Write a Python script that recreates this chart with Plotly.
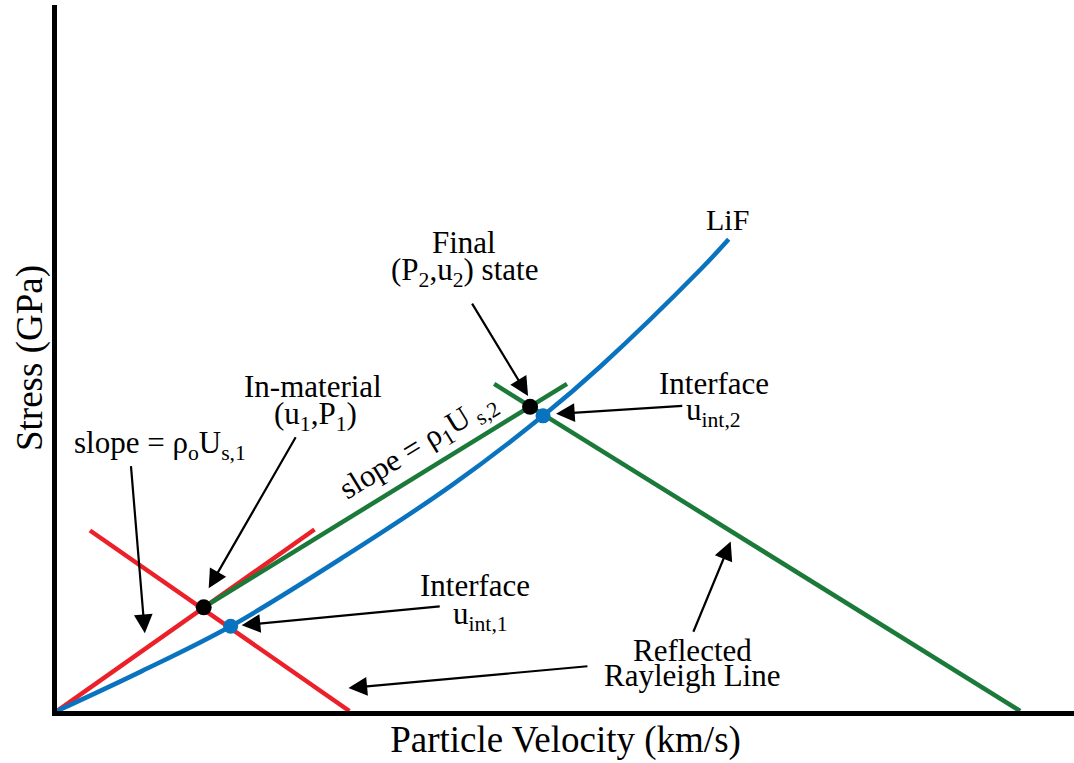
import plotly.graph_objects as go

# ---- data (schematic units: particle velocity, stress) ----
lif_u = [0.0, 0.85, 1.74, 2.88, 3.95, 4.87, 5.45, 6.45, 6.73]
lif_p = [0.0, 0.40, 0.85, 1.55, 2.26, 2.96, 3.46, 4.43, 4.73]

rayleigh1_u = [0.0, 2.58]
rayleigh1_p = [0.0, 1.82]
reflected1_u = [0.33, 2.93]
reflected1_p = [1.81, 0.0]

rayleigh2_u = [1.47, 5.11]
rayleigh2_p = [1.04, 3.28]
reflected2_u = [4.38, 9.65]
reflected2_p = [3.28, 0.0]

state_u = [1.47, 4.74]
state_p = [1.04, 3.05]
interface_u = [1.74, 4.87]
interface_p = [0.85, 2.96]

X_MAX, Y_MAX = 10.19, 7.08

RED = "#ec2029"
GREEN = "#1b7a3a"
BLUE = "#0a73bf"
FONT = "Liberation Serif"

fig = go.Figure()
fig.add_trace(go.Scatter(x=rayleigh1_u, y=rayleigh1_p, mode="lines",
                         line=dict(color=RED, width=4.5), hoverinfo="skip"))
fig.add_trace(go.Scatter(x=reflected1_u, y=reflected1_p, mode="lines",
                         line=dict(color=RED, width=4.5), hoverinfo="skip"))
fig.add_trace(go.Scatter(x=rayleigh2_u, y=rayleigh2_p, mode="lines",
                         line=dict(color=GREEN, width=4.5), hoverinfo="skip"))
fig.add_trace(go.Scatter(x=reflected2_u, y=reflected2_p, mode="lines",
                         line=dict(color=GREEN, width=4.5), hoverinfo="skip"))
fig.add_trace(go.Scatter(x=lif_u, y=lif_p, mode="lines", line_shape="spline",
                         line=dict(color=BLUE, width=4.5), hoverinfo="skip"))
fig.add_trace(go.Scatter(x=state_u, y=state_p, mode="markers",
                         marker=dict(color="black", size=16), hoverinfo="skip"))
fig.add_trace(go.Scatter(x=interface_u, y=interface_p, mode="markers",
                         marker=dict(color=BLUE, size=15), hoverinfo="skip"))

# arrows: (tip_u, tip_p, tail_u, tail_p)
arrows = [
    (0.88, 0.78, 0.74, 2.47),
    (1.52, 1.23, 2.40, 2.76),
    (1.85, 0.86, 3.85, 1.05),
    (2.92, 0.23, 5.33, 0.45),
    (6.75, 1.70, 6.37, 0.78),
    (4.72, 3.16, 4.15, 4.10),
    (5.00, 2.98, 6.28, 3.06),
]
for tx, ty, ax_, ay_ in arrows:
    fig.add_annotation(x=tx, y=ty, ax=ax_, ay=ay_, axref="x", ayref="y",
                       xref="x", yref="y", text="", showarrow=True,
                       arrowhead=2, arrowsize=1.7, arrowwidth=2.2,
                       arrowcolor="black", standoff=0, startstandoff=0)

# labels: (u, p, text, size, angle)
labels = [
    (6.72, 4.93, "LiF", 30, 0),
    (4.08, 4.70, "Final", 31, 0),
    (4.08, 4.40, "(P<sub>2</sub>,u<sub>2</sub>) state", 31, 0),
    (2.56, 3.25, "In-material", 31, 0),
    (2.59, 2.96, "(u<sub>1</sub>,P<sub>1</sub>)", 31, 0),
    (1.03, 2.67, "slope = ρ<sub>o</sub>U<sub>s,1</sub>", 31, 0),
    (3.62, 2.65, "slope = ρ<sub>1</sub>U<sub> s,2</sub>", 31, -31.5),
    (6.58, 3.28, "Interface", 31, 0),
    (6.58, 3.00, "u<sub>int,2</sub>", 31, 0),
    (4.19, 1.26, "Interface", 31, 0),
    (4.24, 0.95, "u<sub>int,1</sub>", 31, 0),
    (6.37, 0.61, "Reflected", 31, 0),
    (6.36, 0.36, "Rayleigh Line", 31, 0),
]
for u, p, t, s, ang in labels:
    fig.add_annotation(x=u, y=p, xref="x", yref="y", text=t, showarrow=False,
                       textangle=ang, font=dict(family=FONT, size=s, color="black"),
                       xanchor="center", yanchor="middle")

fig.update_layout(
    width=1074, height=763,
    margin=dict(l=57, r=0, t=5, b=52),
    paper_bgcolor="white", plot_bgcolor="white",
    showlegend=False,
    font=dict(family=FONT, color="black"),
    xaxis=dict(range=[0, X_MAX], showgrid=False, zeroline=False,
               showticklabels=False, ticks="", showline=True,
               linewidth=5, linecolor="black", fixedrange=True,
               title=dict(text="Particle Velocity (km/s)",
                          font=dict(family=FONT, size=37), standoff=13),
               automargin=False),
    yaxis=dict(range=[0, Y_MAX], showgrid=False, zeroline=False,
               showticklabels=False, ticks="", showline=True,
               linewidth=5, linecolor="black", fixedrange=True,
               title=dict(text="Stress (GPa)",
                          font=dict(family=FONT, size=37), standoff=0),
               automargin=False),
)

fig.write_html("out.html")
